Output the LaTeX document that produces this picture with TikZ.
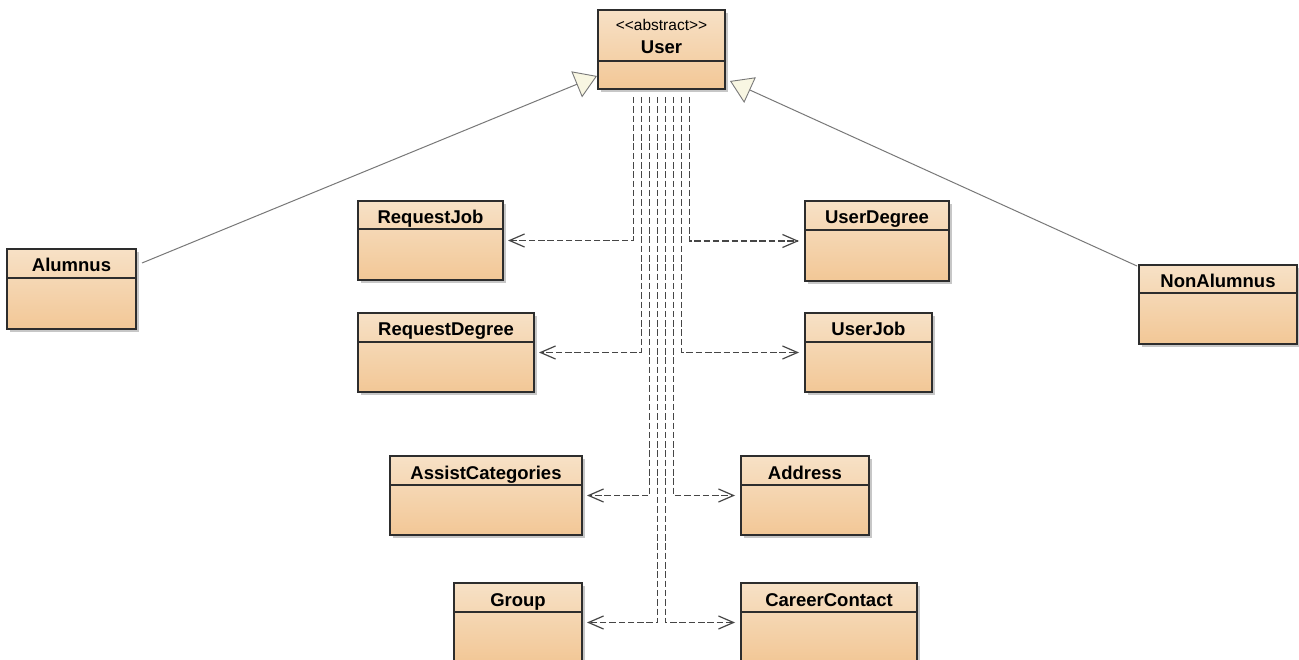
\documentclass[tikz,border=0pt]{standalone}
\usepackage{fontspec}
\setmainfont{Liberation Sans}
\usetikzlibrary{calc,arrows.meta,shadows}
\definecolor{boxtop}{RGB}{247,225,198}
\definecolor{boxbot}{RGB}{242,199,150}
\definecolor{boxline}{RGB}{45,45,45}
\definecolor{depline}{RGB}{70,70,70}
\definecolor{genline}{RGB}{120,120,120}
\definecolor{tricream}{RGB}{248,246,226}
\tikzset{
  cls/.style={draw=boxline, line width=1.4pt, top color=boxtop, bottom color=boxbot,
    inner sep=0pt, outer sep=0pt, anchor=north west,
    drop shadow={shadow xshift=3pt, shadow yshift=-3pt, opacity=0.22, fill=black}},
  clsline/.style={draw=boxline, line width=1.4pt},
  lbl/.style={font=\bfseries\fontsize{18.5}{20}\selectfont, inner sep=0pt, anchor=base},
  stereo/.style={font=\fontsize{15.5}{17}\selectfont, inner sep=0pt, anchor=base},
  dep/.style={draw=depline, line width=1.8pt, dash pattern=on 6.5pt off 2.8pt,
    -{Straight Barb[length=15pt, width=13pt, line width=1.2pt]}},
  depl/.style={dep, shorten >=5pt},
  depr/.style={dep, shorten >=6pt},
  gen/.style={draw=genline, line width=1pt,
    -{Triangle[open, length=22pt, width=28pt, fill=tricream, line width=0.9pt]}}
}
\newcommand{\umlbox}[7]{%
  \node[cls, minimum width={(#4-#2)*1pt}, minimum height={(#6-#3)*1pt}] (#1) at (#2,#3) {};
  \draw[clsline] ($(#1.north west)+(0,#5-#3)$) -- ($(#1.north east)+(0,#5-#3)$);
  \node[lbl] (#1-name) at ($(#1.north)+(0,{(#5-#3)/2+8.5})$) {#7};
}
\begin{document}
\begin{tikzpicture}[x=1pt,y=-1pt]
\useasboundingbox (0,0) rectangle (1299,660);
\clip (0,0) rectangle (1299,660);
\fill[white] (0,0) rectangle (1299,660);

% User
\node[cls, minimum width=127pt, minimum height=79pt] (User) at (598,10) {};
\draw[clsline] ($(User.north west)+(0,51)$) -- ($(User.north east)+(0,51)$);
\node[stereo] (User-st) at ($(User.north)+(0,21)$) {{<}{<}abstract{>}{>}};
\node[lbl] (User-name) at ($(User.north)+(0,44)$) {User};

\umlbox{Alumnus}{7}{249}{136}{278}{329}{Alumnus}
\umlbox{NonAlumnus}{1139}{265}{1297}{293}{344}{NonAlumnus}
\umlbox{RequestJob}{358}{201}{503}{229}{280}{RequestJob}
\umlbox{UserDegree}{805}{201}{949}{230}{281}{UserDegree}
\umlbox{RequestDegree}{358}{313}{534}{342}{392}{RequestDegree}
\umlbox{UserJob}{805}{313}{932}{342}{392}{UserJob}
\umlbox{AssistCategories}{390}{456}{582}{485}{535}{AssistCategories}
\umlbox{Address}{741}{456}{869}{485}{535}{Address}
\umlbox{Group}{454}{583}{582}{612}{662}{Group}
\umlbox{CareerContact}{741}{583}{917}{612}{662}{CareerContact}

% generalizations
\coordinate (genA) at ($(User.north west)+(-1,66)$);
\coordinate (genN) at ($(User.north east)+(5,71)$);
\draw[gen] ($(Alumnus.north east)+(6,14)$) -- (genA);
\draw[gen] ($(NonAlumnus.north west)+(-2,1)$) -- (genN);

% dependencies
\draw[depl] ($(User.south)+(-28,8)$) |- (RequestJob.east);
\draw[depl] ($(User.south)+(-20,8)$) |- (RequestDegree.east);
\draw[depl] ($(User.south)+(-12,8)$) |- (AssistCategories.east);
\draw[depl] ($(User.south)+(-4,8)$) |- (Group.east);
\draw[depr] ($(User.south)+(4,8)$) |- (CareerContact.west);
\draw[depr] ($(User.south)+(12,8)$) |- (Address.west);
\draw[depr] ($(User.south)+(20,8)$) |- (UserJob.west);
\draw[depr] ($(User.south)+(28,8)$) |- (UserDegree.west);
\end{tikzpicture}
\end{document}
